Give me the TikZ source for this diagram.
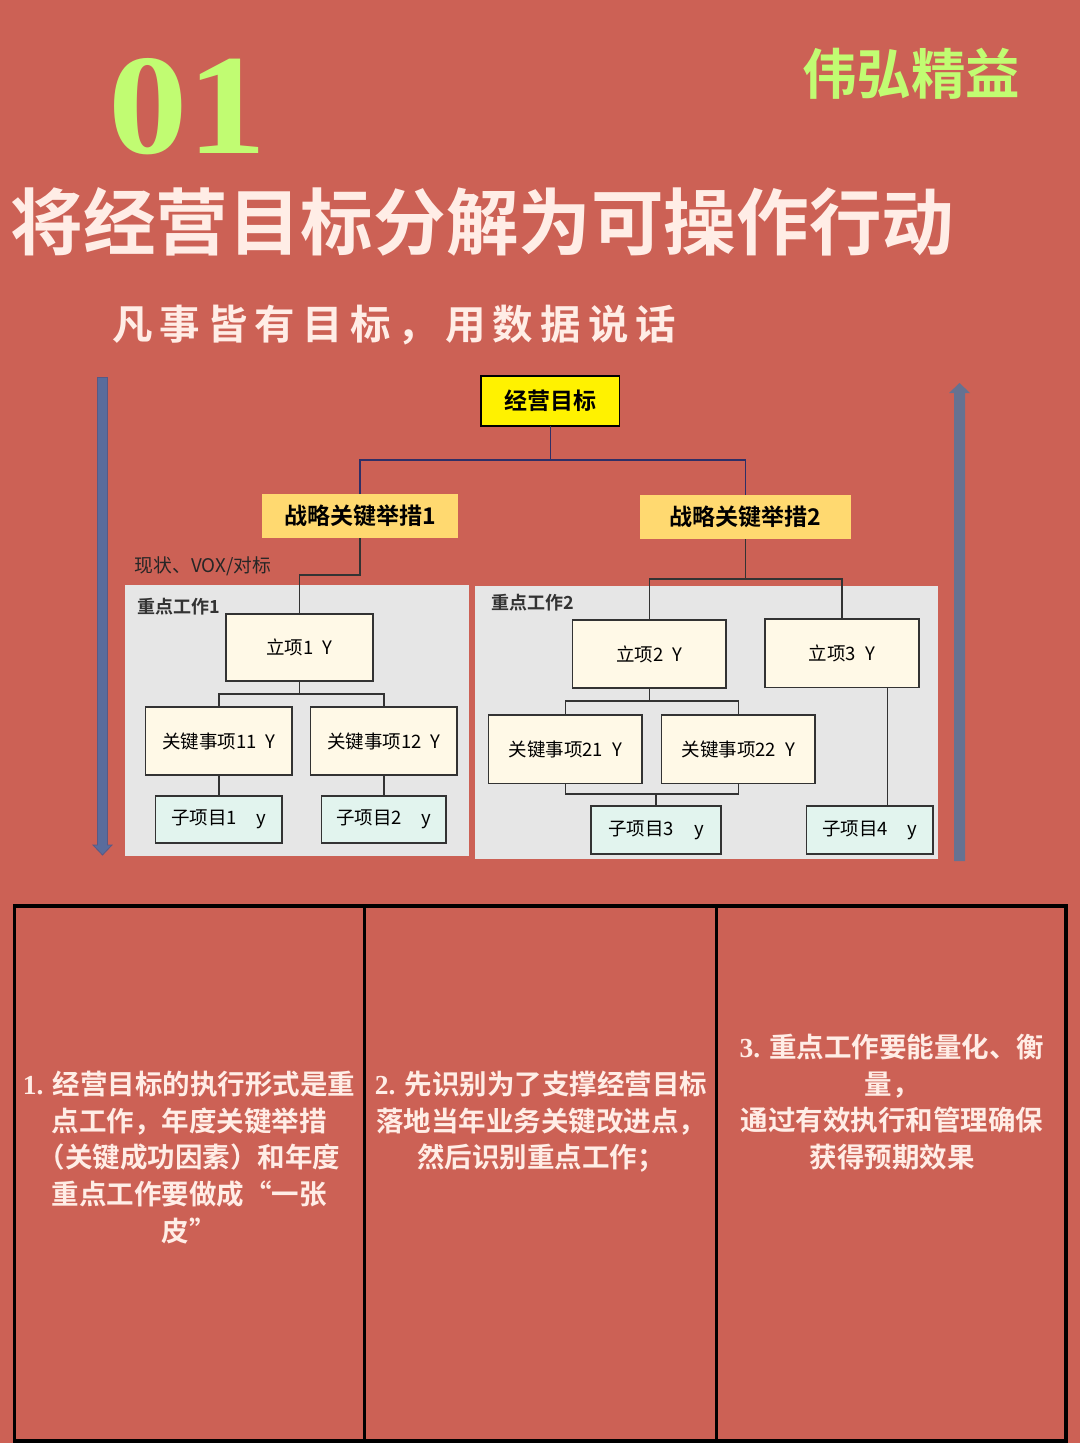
\documentclass[tikz,border=0pt]{standalone}
\usepackage{fontspec}
\setmainfont{Noto Sans CJK SC}[BoldFont={Noto Sans CJK SC Bold}]
\newfontfamily\serifnum{Liberation Serif}[BoldFont={Liberation Serif Bold}]
\newfontfamily\cjkspaced{Noto Sans CJK SC Bold}[LetterSpace=17.5]
\definecolor{bgred}{HTML}{CC6155}
\definecolor{cream}{HTML}{FFEDE6}
\definecolor{limeg}{HTML}{C1FC72}
\definecolor{boxcream}{HTML}{FFF9E7}
\definecolor{boxteal}{HTML}{E2F4EE}
\definecolor{panelg}{HTML}{E6E6E6}
\definecolor{amber}{HTML}{FFD970}
\definecolor{navyl}{HTML}{2E2F66}
\definecolor{darkl}{HTML}{333333}
\definecolor{arrowa}{HTML}{5A6C9C}
\definecolor{arrowb}{HTML}{667291}
\newcommand{\fs}[1]{\fontsize{#1}{#1}\selectfont}
\newcommand{\pxbox}[7][]{%
  \pgfmathsetmacro{\cxv}{(#4+#6)/2}\pgfmathsetmacro{\cyv}{(#5+#7)/2}%
  \pgfmathsetmacro{\wv}{#6-#4}\pgfmathsetmacro{\hv}{#7-#5}%
  \node[#2,minimum width=\wv pt,minimum height=\hv pt] (#3) at (\cxv,\cyv) {#1};}
\tikzset{
  x=1pt,y=-1pt,
  basebox/.style={inner sep=0pt,outer sep=0pt,anchor=center},
  goalbox/.style={basebox,fill=yellow,draw=black,line width=1.3pt,font=\fs{23}\bfseries},
  stratbox/.style={basebox,fill=amber,font=\fs{23}\bfseries},
  panelbox/.style={basebox,fill=panelg},
  itembox/.style={basebox,fill=boxcream,draw=darkl,line width=1.5pt,font=\fs{18.5}},
  subbox/.style={basebox,fill=boxteal,draw=darkl,line width=1.5pt,font=\fs{18.5}},
  cellbox/.style={basebox,draw=black,line width=3.8pt},
  navyline/.style={draw=navyl,line width=1.3pt},
  darkline/.style={draw=darkl,line width=1.5pt},
  paneltitle/.style={inner sep=0pt,anchor=west,font=\fs{18}\bfseries,text=black!80},
  bodytext/.style={inner sep=0pt,align=center,text=cream,font=\fs{27.5}\bfseries,
    execute at begin node={\baselineskip=36.6pt}},
}
\begin{document}
\begin{tikzpicture}
\useasboundingbox (0,0) rectangle (1080,1443);
\fill[bgred] (0,0) rectangle (1080,1443);

% headline
\node[inner sep=0pt,anchor=center,text=limeg,font=\fs{143}\serifnum\bfseries] (num) at (187.5,107) {\scalebox{1.11}[1]{01}};
\node[inner sep=0pt,anchor=center,text=limeg,font=\fs{54.5}\bfseries] (brand) at (911,74) {伟弘精益};
\node[inner sep=0pt,anchor=center,text=cream,font=\fs{72.6}\bfseries] (title) at (482.5,222) {将经营目标分解为可操作行动};
\node[inner sep=0pt,anchor=west,text=cream,font=\fs{40.5}\cjkspaced] (subtitle) at (112,325) {凡事皆有目标，用数据说话};

% side arrows
\draw[fill=arrowa,draw=navyl!80,line width=.8pt] (97.5,377.5) -- (107.5,377.5) -- (107.5,845) -- (112,845) -- (102.5,855) -- (93,845) -- (97.5,845) -- cycle;
\fill[arrowb] (954,393) -- (949,393) -- (959.5,383) -- (970,393) -- (965,393) -- (965,861) -- (954,861) -- cycle;

% panels
\pxbox{panelbox}{panelA}{125}{585}{469}{856}
\pxbox{panelbox}{panelB}{475}{586}{938}{859}

% nodes
\pxbox[经营目标]{goalbox}{goal}{481}{376}{619.5}{426}
\pxbox[战略关键举措1]{stratbox}{stratA}{262}{494}{458}{538}
\pxbox[战略关键举措2]{stratbox}{stratB}{640}{494.5}{851}{539}
\pxbox[立项1\hspace{9pt}Y]{itembox}{itemA}{226}{614}{373}{681}
\pxbox[关键事项11\hspace{9pt}Y]{itembox}{keyAA}{145.5}{707}{292}{775}
\pxbox[关键事项12\hspace{9pt}Y]{itembox}{keyAB}{310.5}{707}{457}{775}
\pxbox[子项目1\hspace{20pt}y]{subbox}{subA}{155.5}{796}{282}{843}
\pxbox[子项目2\hspace{20pt}y]{subbox}{subB}{321.5}{796}{446}{843}
\pxbox[立项2\hspace{9pt}Y]{itembox}{itemB}{572.5}{620}{726}{688}
\pxbox[立项3\hspace{9pt}Y]{itembox}{itemC}{765}{619}{919}{687.5}
\pxbox[关键事项21\hspace{9pt}Y]{itembox}{keyBA}{488.5}{715}{642}{783.5}
\pxbox[关键事项22\hspace{9pt}Y]{itembox}{keyBB}{661.5}{715}{815}{783.5}
\pxbox[子项目3\hspace{20pt}y]{subbox}{subC}{591}{806}{721}{854}
\pxbox[子项目4\hspace{20pt}y]{subbox}{subD}{806.5}{806}{933}{854}

% labels
\node[inner sep=0pt,anchor=west,font=\fs{18.8},text=black!85] (note) at (134.5,566) {现状、VOX/对标};
\node[paneltitle] (ptA) at (137,607) {重点工作1};
\node[paneltitle] (ptB) at (491,603) {重点工作2};

% bus levels
\coordinate (busTop) at (0,460);
\coordinate (busA) at (0,575);
\coordinate (busB) at (0,579);
\coordinate (busC) at (0,694);
\coordinate (busD) at (0,701);
\coordinate (busE) at (0,794);
\coordinate (railD) at (887.5,0);

% connectors
\draw[navyline] (stratA.north) |- (busTop -| goal.south) -- (goal.south);
\draw[navyline] (goal.south) |- (busTop -| stratB.north) -- (stratB.north);
\draw[darkline] (stratA.south) |- (busA -| itemA.north) -- (itemA.north);
\draw[darkline] (itemA.south) |- (busC -| keyAA.north) -- (keyAA.north);
\draw[darkline] (itemA.south) |- (busC -| keyAB.north) -- (keyAB.north);
\draw[darkline] (keyAA.south) -- (subA.north);
\draw[darkline] (keyAB.south) -- (subB.north);
\draw[darkline] (stratB.south) |- (busB -| itemB.north) -- (itemB.north);
\draw[darkline] (stratB.south) |- (busB -| itemC.north) -- (itemC.north);
\draw[darkline] (itemB.south) |- (busD -| keyBA.north) -- (keyBA.north);
\draw[darkline] (itemB.south) |- (busD -| keyBB.north) -- (keyBB.north);
\draw[darkline] (keyBA.south) |- (busE -| subC.north) -- (subC.north);
\draw[darkline] (keyBB.south) |- (busE -| subC.north);
\draw[darkline] (itemC.south -| railD) -- (subD.north -| railD);

% table
\pxbox{cellbox}{cellA}{14.5}{906}{364.5}{1441}
\pxbox{cellbox}{cellB}{364.5}{906}{716.5}{1441}
\pxbox{cellbox}{cellC}{716.5}{906}{1066}{1441}
\node[bodytext,anchor=north] (txtA) at (189,1071) {{\serifnum 1. }经营目标的执行形式是重\\点工作，年度关键举措\\（关键成功因素）和年度\\重点工作要做成“一张\\皮”};
\node[bodytext,anchor=north] (txtB) at (541,1071) {{\serifnum 2. }先识别为了支撑经营目标\\落地当年业务关键改进点，\\然后识别重点工作；};
\node[bodytext,anchor=north] (txtC) at (892,1034) {{\serifnum 3. }重点工作要能量化、衡\\量，\\通过有效执行和管理确保\\获得预期效果};
\end{tikzpicture}
\end{document}
